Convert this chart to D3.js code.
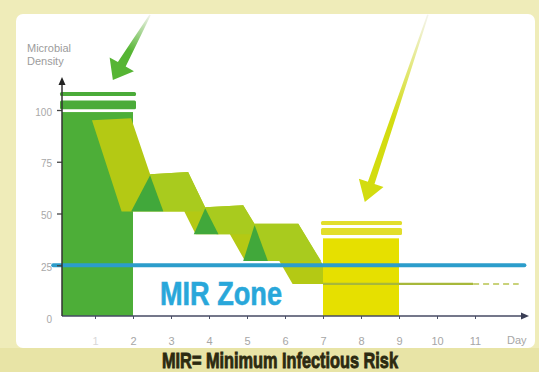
<!DOCTYPE html>
<html>
<head>
<meta charset="utf-8">
<script src="https://cdn.jsdelivr.net/npm/d3@7"></script>
<style>
  html, body { margin: 0; padding: 0; background: #EFECB9; }
  svg { display: block; }
</style>
</head>
<body>
<svg id="chart" width="539" height="372"></svg>
<script>
// ---- data -------------------------------------------------------------
const dayTicks = [1, 2, 3, 4, 5, 6, 7, 8, 9, 10, 11];
const valueTicks = [0, 25, 50, 75, 100];
const yAxisTitle = ["Microbial", "Density"];
const xAxisTitle = "Day";

// dose bars: first day, last day, microbial density reached
const barStart = [0, 7];
const barEnd = [2, 9];
const barValue = [99, 38];
// the two lids stacked on each bar (density ranges)
const lidThick = [[100.4, 104.6], [39.6, 43.0]];
const lidThin = [[106.8, 108.7], [44.4, 46.4]];

// regrowth ribbon, [day, density]
const ribbonOutline = [
  [0.92, 95], [1.95, 96], [2.45, 69], [3.45, 70], [3.9, 53], [4.9, 54],
  [5.2, 45], [6.35, 45], [7.3, 16], [6.2, 16], [5.85, 27], [4.95, 27],
  [4.55, 40], [3.65, 40], [3.35, 51], [1.7, 51]
];
const ribbonPlateaus = [
  [[2.45, 69], [3.45, 70], [3.95, 51], [2.8, 51]],
  [[3.9, 53], [4.9, 54], [5.35, 40], [4.2, 40]],
  [[5.2, 45], [6.35, 45], [6.95, 27], [5.55, 27]]
];
const ribbonFolds = [
  [[2.45, 68.5], [1.95, 51], [2.8, 51]],
  [[3.9, 52.5], [3.6, 40], [4.25, 40]],
  [[5.2, 44.5], [4.9, 27], [5.55, 27]]
];

// residual density after the second dose
const residualLevel = 16;
const residualFrom = 7;
const residualSolidTo = 10.95;
const residualDashTo = 12.15;

// minimum infectious risk threshold
const mirLevel = 25;
const mirFrom = -0.1;
const mirTo = 12.3;
const mirLabel = "MIR Zone";
const caption = "MIR= Minimum Infectious Risk";

// call-out arrows, tail then tip, [day, density]
const greenArrow = [[2.45, 146], [1.47, 114.5]];
const yellowArrow = [[9.76, 146], [8.1, 55.6]];

// ---- layout -----------------------------------------------------------
const svg = d3.select("#chart");
const x = d3.scaleLinear().domain([0, 12]).range([57, 513]);
const y = d3.scaleLinear().domain([0, 100]).range([317, 110]);
const axisX = 62, axisY = 316;

const defs = svg.append("defs");

// background bands and white panel
svg.append("rect").attr("x", 0).attr("y", 0).attr("width", 539).attr("height", 372).attr("fill", "#EFECB9");
svg.append("rect").attr("x", 0).attr("y", 348).attr("width", 539).attr("height", 24).attr("fill", "#E8E4A6");
svg.append("rect").attr("x", 16).attr("y", 14).attr("width", 519).attr("height", 334)
  .attr("rx", 7).attr("fill", "#ffffff");

const line = d3.line().x(d => x(d[0])).y(d => y(d[1]));
const poly = pts => line(pts) + "Z";

// ---- first dose bar --------------------------------------------------
const barColors = ["#4DAE38", "#E6E000"];
const lidColors = ["#4BAB39", "#E2DE2C"];

function drawBar(i) {
  const x0 = Math.max(x(barStart[i]), axisX);
  const x1 = x(barEnd[i]);
  svg.append("rect")
    .attr("x", x0).attr("y", y(barValue[i]))
    .attr("width", x1 - x0).attr("height", axisY - y(barValue[i]))
    .attr("fill", barColors[i]);
  [lidThick[i], lidThin[i]].forEach(r => {
    svg.append("rect")
      .attr("x", x0 - 2).attr("y", y(r[1]))
      .attr("width", x1 - x0 + 5).attr("height", y(r[0]) - y(r[1]))
      .attr("rx", 1.5)
      .attr("fill", lidColors[i]);
  });
}
drawBar(0);

// ---- ribbon -------------------------------------------------------------
svg.append("path").attr("d", poly(ribbonOutline)).attr("fill", "#B4C914");
ribbonPlateaus.forEach(p => svg.append("path").attr("d", poly(p)).attr("fill", "#A9CB1E"));
ribbonFolds.forEach(p => svg.append("path").attr("d", poly(p)).attr("fill", "#41A83B"));

// ---- second dose bar ---------------------------------------------------
drawBar(1);

// residual level line
svg.append("line")
  .attr("x1", x(residualFrom)).attr("x2", x(residualSolidTo))
  .attr("y1", y(residualLevel)).attr("y2", y(residualLevel))
  .attr("stroke", "#A7B83A").attr("stroke-width", 2.2);
svg.append("line")
  .attr("x1", x(residualSolidTo)).attr("x2", x(residualDashTo))
  .attr("y1", y(residualLevel)).attr("y2", y(residualLevel))
  .attr("stroke", "#C9D27A").attr("stroke-width", 2)
  .attr("stroke-dasharray", "6,4");

// MIR threshold line
svg.append("line")
  .attr("x1", x(mirFrom)).attr("x2", x(mirTo))
  .attr("y1", y(mirLevel)).attr("y2", y(mirLevel))
  .attr("stroke", "#2C9DCB").attr("stroke-width", 4).attr("stroke-linecap", "round");

// ---- axes --------------------------------------------------------------
const gx = svg.append("g").attr("transform", `translate(0,${axisY})`)
  .call(d3.axisBottom(x).tickValues(dayTicks).tickSize(3).tickPadding(18).tickFormat(d3.format("d")));
gx.select(".domain").remove();
gx.selectAll(".tick line").attr("stroke", "#4A4E66");
gx.selectAll(".tick text")
  .attr("fill", d => d === 1 ? "#d8d8d8" : "#a6a6a6")
  .attr("font-family", "Liberation Sans, Arial, sans-serif").attr("font-size", 11);

const gy = svg.append("g").attr("transform", `translate(${axisX},0)`)
  .call(d3.axisLeft(y).tickValues(valueTicks).tickSize(5).tickPadding(5).tickFormat(d3.format("d")));
gy.select(".domain").remove();
gy.selectAll(".tick line").attr("stroke", "#444").attr("stroke-width", 1.3)
  .filter(d => d === 0).remove();
gy.selectAll(".tick text")
  .attr("fill", "#a8a8a8").attr("transform", "translate(0,2)")
  .attr("font-family", "Liberation Sans, Arial, sans-serif").attr("font-size", 10);

// axis lines with arrow heads
svg.append("line").attr("x1", axisX).attr("x2", 523).attr("y1", axisY).attr("y2", axisY)
  .attr("stroke", "#464A63").attr("stroke-width", 1.5);
svg.append("path").attr("d", `M529,${axisY} L521,${axisY - 3.5} L521,${axisY + 3.5}Z`).attr("fill", "#3A3E55");
svg.append("line").attr("x1", axisX).attr("x2", axisX).attr("y1", axisY).attr("y2", 83)
  .attr("stroke", "#333").attr("stroke-width", 1.5);
svg.append("path").attr("d", `M${axisX},77 L${axisX - 3.5},85 L${axisX + 3.5},85Z`).attr("fill", "#222");

// axis titles
const yt = svg.append("text").attr("x", 27).attr("y", 52)
  .attr("font-family", "Liberation Sans, Arial, sans-serif").attr("font-size", 11).attr("fill", "#9c9c9c");
yAxisTitle.forEach((t, i) => yt.append("tspan").attr("x", 27).attr("dy", i ? 13 : 0).text(t));
svg.append("text").attr("x", x(12.1)).attr("y", 344).attr("text-anchor", "middle")
  .attr("font-family", "Liberation Sans, Arial, sans-serif").attr("font-size", 11).attr("fill", "#a6a6a6")
  .text(xAxisTitle);

// ---- labels ------------------------------------------------------------
svg.append("text").attr("x", 160).attr("y", 305)
  .attr("font-family", "Liberation Sans Narrow, Arial Narrow, sans-serif")
  .attr("font-weight", "bold").attr("font-size", 34).attr("fill", "#29A7DA")
  .attr("stroke", "#29A7DA").attr("stroke-width", 0.6)
  .attr("textLength", 122).attr("lengthAdjust", "spacingAndGlyphs")
  .text(mirLabel);

svg.append("text").attr("x", 162).attr("y", 368)
  .attr("font-family", "Liberation Sans Narrow, Arial Narrow, sans-serif")
  .attr("font-weight", "bold").attr("font-size", 22).attr("fill", "#2C2A10")
  .attr("stroke", "#2C2A10").attr("stroke-width", 0.9)
  .attr("textLength", 236).attr("lengthAdjust", "spacingAndGlyphs")
  .text(caption);

// ---- call-out arrows ---------------------------------------------------
function drawArrow(a, color, id, headLen, headHalf, w0, w1) {
  const tx = x(a[0][0]), ty = y(a[0][1]);
  const hx = x(a[1][0]), hy = y(a[1][1]);
  const len = Math.hypot(hx - tx, hy - ty);
  const ux = (hx - tx) / len, uy = (hy - ty) / len;
  const px = -uy, py = ux;
  const bx = hx - ux * headLen, by = hy - uy * headLen;
  const g = defs.append("linearGradient").attr("id", id)
    .attr("gradientUnits", "userSpaceOnUse")
    .attr("x1", tx).attr("y1", ty).attr("x2", hx).attr("y2", hy);
  g.append("stop").attr("offset", 0).attr("stop-color", "#f4f4ee");
  g.append("stop").attr("offset", 0.55).attr("stop-color", color);
  g.append("stop").attr("offset", 1).attr("stop-color", color);
  const shaft = [
    [tx + px * w0 / 2, ty + py * w0 / 2],
    [bx + px * w1 / 2, by + py * w1 / 2],
    [bx + px * headHalf, by + py * headHalf],
    [hx, hy],
    [bx - px * headHalf, by - py * headHalf],
    [bx - px * w1 / 2, by - py * w1 / 2],
    [tx - px * w0 / 2, ty - py * w0 / 2]
  ];
  svg.append("path").attr("d", "M" + shaft.map(p => p.join(",")).join("L") + "Z")
    .attr("fill", `url(#${id})`);
}
drawArrow(greenArrow, "#56B534", "gArrow", 18, 14, 1.5, 9);
drawArrow(yellowArrow, "#D3DC10", "yArrow", 20, 13, 1.5, 7);
</script>
</body>
</html>
